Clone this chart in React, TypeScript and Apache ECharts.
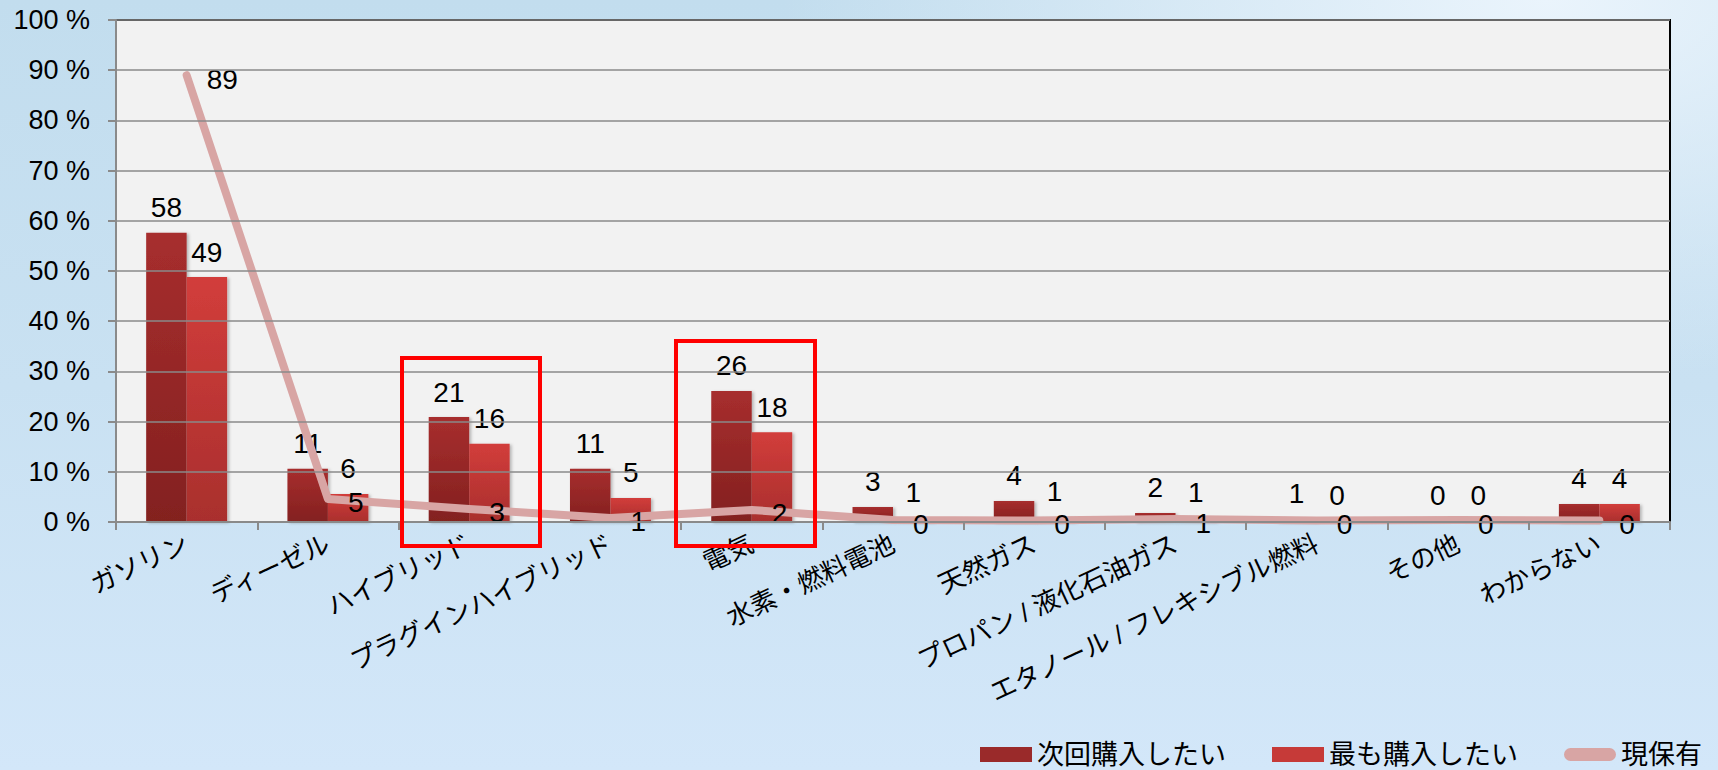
import React, { useEffect, useRef } from "react";
import * as echarts from "echarts";

const categories = [
  "ガソリン",
  "ディーゼル",
  "ハイブリッド",
  "プラグインハイブリッド",
  "電気",
  "水素・燃料電池",
  "天然ガス",
  "プロパン / 液化石油ガス",
  "エタノール / フレキシブル燃料",
  "その他",
  "わからない",
];
const nextPurchase = [57.6, 10.6, 20.9, 10.6, 26.1, 3.0, 4.2, 1.8, 0.6, 0.2, 3.6];
const mostWanted = [48.8, 5.6, 15.6, 4.8, 17.9, 0.8, 1.0, 0.8, 0.3, 0.2, 3.6];
const currentOwned = [89, 4.6, 2.6, 0.8, 2.4, 0.4, 0.3, 0.6, 0.3, 0.4, 0.3];
const yTicks = { min: 0, max: 100, interval: 10 };
const seriesNames = ["次回購入したい", "最も購入したい", "現保有"];

const FONT = "'Liberation Sans', 'Noto Sans CJK JP', sans-serif";

export default function App() {
  const ref = useRef<HTMLDivElement>(null);
  useEffect(() => {
    if (!ref.current) return;
    const chart = echarts.init(ref.current, undefined, { renderer: "svg" });
    const round = (p: any) => String(Math.round(p.value));
    const barLabel = {
      show: true,
      position: "top",
      distance: 11,
      color: "#000",
      fontSize: 28,
      fontFamily: FONT,
      formatter: round,
    };
    const shadow = {
      shadowColor: "rgba(0,0,0,0.25)",
      shadowBlur: 3,
      shadowOffsetX: 2,
      shadowOffsetY: 1,
    };
    chart.setOption({
      animation: false,
      backgroundColor: "transparent",
      textStyle: { fontFamily: FONT },
      grid: {
        left: 116,
        right: 48,
        top: 20,
        bottom: 248,
        containLabel: false,
        outerBoundsMode: "none",
        show: true,
        backgroundColor: "#f2f2f2",
        borderColor: "#000",
        borderWidth: 2,
      },
      legend: {
        data: [
          { name: seriesNames[0], icon: "rect", itemStyle: { color: "#9a2a2a" } },
          { name: seriesNames[1], icon: "rect", itemStyle: { color: "#c63a38" } },
          {
            name: seriesNames[2],
            icon: "path://M7.5,0 H52.5 A7.5,7.5 0 0 1 52.5,15 H7.5 A7.5,7.5 0 0 1 7.5,0 Z",
            itemStyle: { color: "#d8a5a4" },
          },
        ],
        right: 16,
        top: 741,
        padding: 0,
        itemWidth: 52,
        itemHeight: 15,
        itemGap: 46,
        textStyle: { fontSize: 27, color: "#000", fontFamily: FONT },
      },
      xAxis: {
        type: "category",
        data: categories,
        axisLine: { lineStyle: { color: "#8a8a8a", width: 2 } },
        axisTick: { show: true, length: 8, lineStyle: { color: "#8a8a8a", width: 2 } },
        axisLabel: {
          interval: 0,
          rotate: 25,
          margin: 20,
          fontSize: 26,
          color: "#000",
          fontFamily: FONT,
        },
        z: 5,
      },
      yAxis: {
        type: "value",
        min: yTicks.min,
        max: yTicks.max,
        interval: yTicks.interval,
        axisLine: { show: true, lineStyle: { color: "#8a8a8a", width: 2 } },
        axisTick: { show: true, length: 8, lineStyle: { color: "#8a8a8a", width: 2 } },
        axisLabel: {
          formatter: "{value} %",
          fontSize: 27,
          color: "#000",
          margin: 26,
          fontFamily: FONT,
        },
        splitLine: { lineStyle: { color: "#8a8a8a", width: 1.5 } },
        z: 5,
      },
      series: [
        {
          name: seriesNames[0],
          type: "bar",
          data: nextPurchase,
          barGap: "0%",
          barCategoryGap: "42.7%",
          itemStyle: {
            color: new echarts.graphic.LinearGradient(0, 0, 0, 1, [
              { offset: 0, color: "#a72e2e" },
              { offset: 1, color: "#83201f" },
            ]),
            ...shadow,
          },
          label: barLabel,
          z: 2,
        },
        {
          name: seriesNames[1],
          type: "bar",
          data: mostWanted,
          itemStyle: {
            color: new echarts.graphic.LinearGradient(0, 0, 0, 1, [
              { offset: 0, color: "#d23d3b" },
              { offset: 1, color: "#a92f2d" },
            ]),
            ...shadow,
          },
          label: barLabel,
          z: 2,
        },
        {
          name: seriesNames[2],
          type: "line",
          data: currentOwned,
          symbol: "circle",
          symbolSize: 2,
          showSymbol: true,
          lineStyle: { color: "#d8a5a4", width: 8, cap: "round", join: "round" },
          itemStyle: { color: "#d8a5a4" },
          label: {
            show: true,
            position: [21, -9],
            align: "left",
            verticalAlign: "top",
            color: "#000",
            fontSize: 28,
            fontFamily: FONT,
            formatter: round,
          },
          labelLayout: { hideOverlap: false },
          z: 4,
        },
      ],
      graphic: [
        {
          type: "rect",
          z: 100,
          shape: { x: 402, y: 358, width: 138, height: 188 },
          style: { fill: "none", stroke: "#ff0000", lineWidth: 4 },
        },
        {
          type: "rect",
          z: 100,
          shape: { x: 676, y: 341, width: 139, height: 205 },
          style: { fill: "none", stroke: "#ff0000", lineWidth: 4 },
        },
      ],
    });
    return () => chart.dispose();
  }, []);
  return (
    <div
      style={{
        position: "fixed",
        left: 0,
        top: 0,
        width: 1718,
        height: 770,
        background:
          "radial-gradient(ellipse at 90% 0%, #eaf4fc 0%, rgba(234,244,252,0) 35%), linear-gradient(180deg, #c2ddee 0%, #c9e1f2 50%, #d3e7f9 100%)",
      }}
    >
      <div ref={ref} style={{ width: 1718, height: 770 }} />
    </div>
  );
}
